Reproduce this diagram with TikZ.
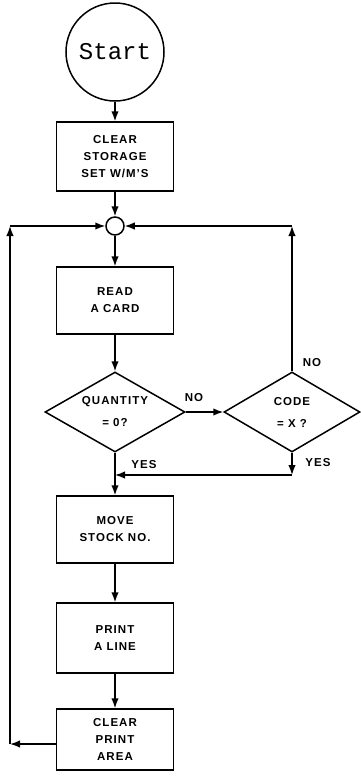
\documentclass[tikz,border=0pt]{standalone}
\usepackage{fontspec}
\setmainfont{Liberation Sans}[LetterSpace=9]
\newfontfamily\startfont{Liberation Mono}
\usetikzlibrary{shapes.geometric,arrows.meta}
\begin{document}
\begin{tikzpicture}[x=1pt,y=-1pt,
  every node/.style={inner sep=0pt},
  txt/.style={font=\bfseries\fontsize{11.5}{17}\selectfont, align=center},
  box/.style={txt, draw, line width=1.5pt, minimum width=117pt, minimum height=68pt},
  dec/.style={txt, draw, diamond, line width=1.5pt, aspect=1.75, minimum width=140pt, minimum height=80pt, font=\bfseries\fontsize{11.5}{22}\selectfont},
  lab/.style={font=\bfseries\fontsize{11.5}{12}\selectfont},
  flow/.style={line width=1.5pt, -{Latex[length=10pt,width=7.5pt]}}
]
\useasboundingbox (0,0) rectangle (360,780);
\node[draw, circle, line width=1.5pt, minimum size=98pt, font=\startfont\fontsize{24}{26}\selectfont] (start) at (115,52) {Start};
\node[box, minimum height=69pt] (b1) at (115,156.5) {CLEAR\\STORAGE\\SET W/M'S};
\node[draw, circle, line width=1.5pt, minimum size=18pt] (j) at (115,226) {};
\node[box, minimum height=67pt] (b2) at (115,300.5) {READ\\A CARD};
\node[dec] (d1) at (115,412) {QUANTITY\\= 0?};
\node[dec, minimum width=136pt] (d2) at (292,412) {CODE\\= X ?};
\node[box, minimum height=67pt] (b3) at (115,529.5) {MOVE\\STOCK NO.};
\node[box, minimum height=70pt] (b4) at (115,638) {PRINT\\A LINE};
\node[box, minimum height=61pt] (b5) at (115,739.5) {CLEAR\\PRINT\\AREA};
\coordinate (cR) at (d2.north |- j);
\coordinate (cY) at (292,475);
\coordinate (cY2) at (d1.south |- cY);
\coordinate (cL) at (10,744);
\coordinate (cLT) at (10,226);
\draw[flow] (start) -- (b1);
\draw[flow] (b1) -- (j);
\draw[flow] (j) -- (b2);
\draw[flow] (b2) -- (d1);
\draw[flow] (d1.east) -- (d2.west);
\draw[flow] (d2.north) -- (cR);
\draw[flow] (cR) -- (j);
\draw[flow] (d2.south) -- (cY);
\draw[flow] (cY) -- (cY2);
\draw[flow] (d1.south) -- (b3);
\draw[flow] (b3) -- (b4);
\draw[flow] (b4) -- (b5);
\draw[flow] ([yshift=-4.5pt]b5.west) -- (cL);
\draw[flow] (cL) -- (cLT);
\draw[flow] (cLT) -- (j);
\node[lab] (l1) at (194,398) {NO};
\node[lab] (l2) at (312,363) {NO};
\node[lab] (l3) at (318,463) {YES};
\node[lab] (l4) at (144,465) {YES};
\end{tikzpicture}
\end{document}
